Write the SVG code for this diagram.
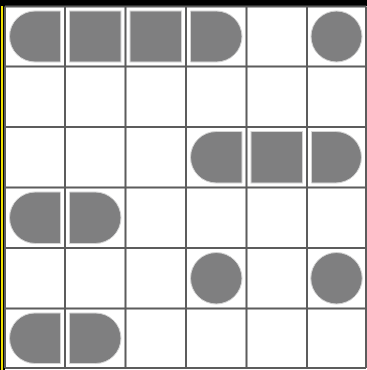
<svg xmlns="http://www.w3.org/2000/svg" width="367" height="370" viewBox="0 0 367 370">
<style>
.s{fill:#7f7f80;stroke:#d4d4d4;stroke-width:1}
.g{stroke:#5c5c5c;stroke-width:2;fill:none}
</style>
<rect x="0" y="0" width="367" height="370" fill="#ffffff"/>
<rect x="0" y="0" width="367" height="6" fill="#000000"/>
<rect x="0" y="0" width="5" height="370" fill="#000000"/>
<rect x="1" y="6" width="2" height="364" fill="#f0e000"/>
<g id="grid" class="g">
<line x1="5" y1="6.5" x2="5" y2="368"/>
<line x1="65" y1="6.5" x2="65" y2="368"/>
<line x1="125.5" y1="6.5" x2="125.5" y2="368"/>
<line x1="186" y1="6.5" x2="186" y2="368"/>
<line x1="246.5" y1="6.5" x2="246.5" y2="368"/>
<line x1="307" y1="6.5" x2="307" y2="368"/>
<line x1="366" y1="6.5" x2="366" y2="368"/>
<line x1="5" y1="6.5" x2="366" y2="6.5"/>
<line x1="5" y1="66.5" x2="366" y2="66.5"/>
<line x1="5" y1="127" x2="366" y2="127"/>
<line x1="5" y1="187.5" x2="366" y2="187.5"/>
<line x1="5" y1="248" x2="366" y2="248"/>
<line x1="5" y1="308.5" x2="366" y2="308.5"/>
<line x1="5" y1="368" x2="366" y2="368"/>
</g>
<g id="r0c0"><path class="s" d="M35,11 H60.5 V62 H35 A25.5 25.5 0 0 1 35 11 Z"/></g>
<g id="r0c1"><rect class="s" x="69.5" y="11" width="51.5" height="51"/></g>
<g id="r0c2"><rect class="s" x="130" y="11" width="51.5" height="51"/></g>
<g id="r0c3"><path class="s" d="M190.5,11 H216.5 A25.5 25.5 0 0 1 216.5 62 H190.5 Z"/></g>
<g id="r0c5"><circle class="s" cx="336.5" cy="36.5" r="25.5"/></g>
<g id="r2c3"><path class="s" d="M216.25,131.5 H242 V183 H216.25 A25.75 25.75 0 0 1 216.25 131.5 Z"/></g>
<g id="r2c4"><rect class="s" x="251" y="131.5" width="51.5" height="51.5"/></g>
<g id="r2c5"><path class="s" d="M311.5,131.5 H335.75 A25.75 25.75 0 0 1 335.75 183 H311.5 Z"/></g>
<g id="r3c0"><path class="s" d="M35.25,192 H60.5 V243.5 H35.25 A25.75 25.75 0 0 1 35.25 192 Z"/></g>
<g id="r3c1"><path class="s" d="M69.5,192 H95.25 A25.75 25.75 0 0 1 95.25 243.5 H69.5 Z"/></g>
<g id="r4c3"><circle class="s" cx="216.25" cy="278.25" r="25.75"/></g>
<g id="r4c5"><circle class="s" cx="336.5" cy="278.25" r="25.75"/></g>
<g id="r5c0"><path class="s" d="M34.75,313 H60.5 V363.5 H34.75 A25.25 25.25 0 0 1 34.75 313 Z"/></g>
<g id="r5c1"><path class="s" d="M69.5,313 H95.75 A25.25 25.25 0 0 1 95.75 363.5 H69.5 Z"/></g>
</svg>
